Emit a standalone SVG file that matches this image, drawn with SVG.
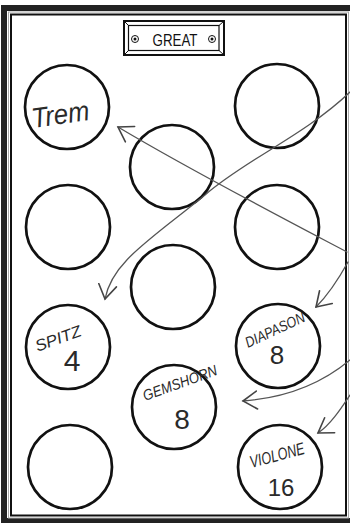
<svg xmlns="http://www.w3.org/2000/svg" width="350" height="523" viewBox="0 0 350 523">
<style>
.knob{fill:none;stroke:#111;stroke-width:2.7}
.hand{font-family:"Liberation Sans",Arial,sans-serif;font-style:italic;fill:#2a2a2a;text-anchor:middle}
.num{font-family:"Liberation Sans",Arial,sans-serif;fill:#2a2a2a;text-anchor:middle}
.conn{fill:none;stroke:#555;stroke-width:1.3;stroke-linecap:round}
</style>
<defs>
<marker id="ah" markerUnits="userSpaceOnUse" viewBox="0 0 30 30" markerWidth="30" markerHeight="30" refX="15" refY="15" orient="auto">
<path d="M1,6 L15,15 L1,24" fill="none" stroke="#444" stroke-width="1.6" stroke-linecap="round"/>
</marker>
</defs>
<rect width="350" height="523" fill="#fff"/>
<g id="frame">
<rect x="4" y="8" width="349" height="513" fill="none" stroke="#222" stroke-width="6"/>
<rect x="8.5" y="12" width="340" height="506" fill="none" stroke="#aaa" stroke-width="1"/>
<rect x="11" y="14.5" width="335" height="501" fill="none" stroke="#111" stroke-width="2"/>
</g>
<g id="plate">
<rect x="124" y="21" width="100" height="34" fill="#fff" stroke="#111" stroke-width="2"/>
<rect x="128.5" y="25.5" width="90.5" height="25" fill="none" stroke="#111" stroke-width="1.2"/>
<path d="M124,21 L128.5,25.5 M224,21 L219,25.5 M124,55 L128.5,50.5 M224,55 L219,50.5" stroke="#111" stroke-width="1"/>
<circle cx="135" cy="39" r="3.5" fill="none" stroke="#111" stroke-width="1"/>
<circle cx="135" cy="39" r="1.5" fill="#111"/>
<circle cx="212" cy="39" r="3.5" fill="none" stroke="#111" stroke-width="1"/>
<circle cx="212" cy="39" r="1.5" fill="#111"/>
<text x="175" y="45.5" font-family="Liberation Sans,Arial,sans-serif" font-size="16.5" text-anchor="middle" textLength="45" lengthAdjust="spacingAndGlyphs" fill="#111">GREAT</text>
</g>
<g id="knob-trem">
<circle class="knob" cx="67" cy="107" r="42"/>
<text class="hand" x="60" y="124" font-size="28" textLength="58" lengthAdjust="spacingAndGlyphs" transform="rotate(-8 60 112)">Trem</text>
</g>
<g id="knob-2"><circle class="knob" cx="277" cy="106" r="42"/></g>
<g id="knob-3"><circle class="knob" cx="172" cy="167" r="42"/></g>
<g id="knob-4"><circle class="knob" cx="68" cy="227" r="42"/></g>
<g id="knob-5"><circle class="knob" cx="277" cy="227" r="42"/></g>
<g id="knob-6"><circle class="knob" cx="173" cy="287" r="42"/></g>
<g id="knob-spitz">
<circle class="knob" cx="68" cy="347" r="42"/>
<text class="hand" x="58" y="344" font-size="16" textLength="48" lengthAdjust="spacingAndGlyphs" transform="rotate(-20 58 338)">SPITZ</text>
<text class="num" x="72" y="371" font-size="30">4</text>
</g>
<g id="knob-diapason">
<circle class="knob" cx="278" cy="346" r="42"/>
<text class="hand" x="275" y="335" font-size="15" textLength="64" lengthAdjust="spacingAndGlyphs" transform="rotate(-25 275 330)">DIAPASON</text>
<text class="num" x="277" y="364" font-size="26">8</text>
</g>
<g id="knob-gemshorn">
<circle class="knob" cx="174" cy="407" r="42"/>
<text class="hand" x="180" y="388" font-size="15" textLength="78" lengthAdjust="spacingAndGlyphs" transform="rotate(-20 180 383)">GEMSHORN</text>
<text class="num" x="182" y="429" font-size="28">8</text>
</g>
<g id="knob-10"><circle class="knob" cx="70" cy="467" r="42"/></g>
<g id="knob-violone">
<circle class="knob" cx="280" cy="467" r="42"/>
<text class="hand" x="277" y="461" font-size="17" textLength="56" lengthAdjust="spacingAndGlyphs" transform="rotate(-15 277 455)">VIOLONE</text>
<text class="num" x="281" y="496" font-size="24">16</text>
</g>
<g id="connectors">
<path class="conn" d="M350,92 C305,135 245,160 205,195 C150,240 112,262 105,299" marker-end="url(#ah)"/>
<path class="conn" d="M347,252 C290,222 190,170 118,127" marker-end="url(#ah)"/>
<path class="conn" d="M348,262 C338,280 328,295 316,307" marker-end="url(#ah)"/>
<path class="conn" d="M350,360 C320,385 285,398 243,401" marker-end="url(#ah)"/>
<path class="conn" d="M350,395 C340,410 330,425 318,433" marker-end="url(#ah)"/>
</g>
</svg>
